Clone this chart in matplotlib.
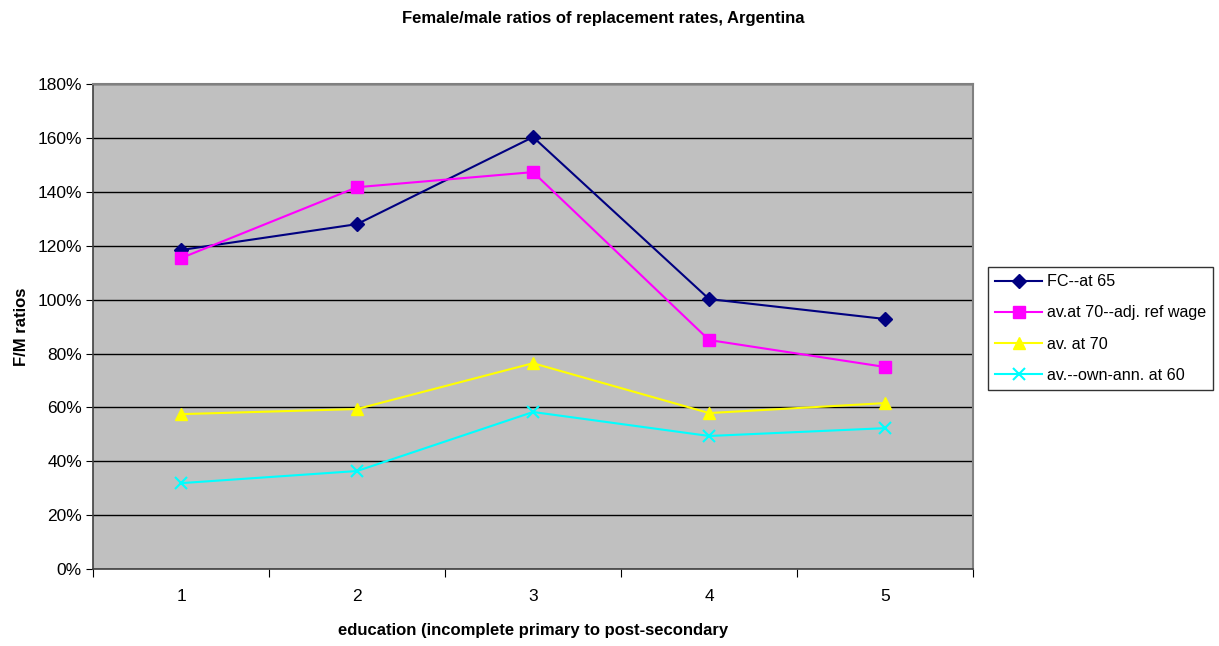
import matplotlib
matplotlib.use("Agg")
from matplotlib import pyplot as plt
from matplotlib.ticker import FixedLocator, PercentFormatter

plt.rcParams['font.family'] = ['Liberation Sans', 'DejaVu Sans']

education = [1, 2, 3, 4, 5]
fc_at_65 = [118.4, 128.0, 160.3, 100.2, 92.8]
av_70_adj = [115.4, 141.7, 147.3, 85.0, 75.0]
av_70 = [57.5, 59.4, 76.4, 57.9, 61.6]
av_own_ann_60 = [31.9, 36.4, 58.3, 49.4, 52.3]

fig = plt.figure(figsize=(12.19, 6.46), dpi=100)
ax = fig.add_axes([0.0763, 0.119, 0.722, 0.751])
ax.set_facecolor('#C0C0C0')

ax.plot(education, fc_at_65, color='#000080', marker='D', ms=7, lw=1.5, label='FC--at 65')
ax.plot(education, av_70_adj, color='#FF00FF', marker='s', ms=8, lw=1.5, label='av.at 70--adj. ref wage')
ax.plot(education, av_70, color='#FFFF00', marker='^', ms=9, lw=1.5, label='av. at 70')
ax.plot(education, av_own_ann_60, color='#00FFFF', marker='x', ms=8, mew=1.5, lw=1.5,
        label='av.--own-ann. at 60')

ax.set_xlim(0.5, 5.5)
ax.set_ylim(0, 180)
ax.set_yticks(range(0, 181, 20))
ax.yaxis.set_major_formatter(PercentFormatter(decimals=0))
ax.yaxis.grid(True, color='black', lw=1)
ax.set_axisbelow(True)

# category ticks between the points, labels centred on them
ax.xaxis.set_major_locator(FixedLocator([0.5, 1.5, 2.5, 3.5, 4.5, 5.5]))
ax.xaxis.set_minor_locator(FixedLocator(education))
ax.set_xticklabels([])
ax.set_xticklabels([str(e) for e in education], minor=True)
ax.tick_params(axis='x', which='minor', length=0, pad=14, labelsize=12.5)
ax.tick_params(axis='x', which='major', length=6, direction='out')
ax.tick_params(axis='y', length=5, direction='out', labelsize=12.5, pad=3)

for side in ['top', 'right']:
    ax.spines[side].set_color('#808080')
    ax.spines[side].set_linewidth(1.5)
for side in ['left', 'bottom']:
    ax.spines[side].set_color('#404040')
    ax.spines[side].set_linewidth(1.2)

ax.set_xlabel('education (incomplete primary to post-secondary', fontsize=12, fontweight='bold', labelpad=14)
ax.set_ylabel('F/M ratios', fontsize=12, fontweight='bold', labelpad=6)
fig.suptitle('Female/male ratios of replacement rates, Argentina', fontsize=12, fontweight='bold',
             x=0.495, y=0.983)

leg = ax.legend(loc='center left', bbox_to_anchor=(1.017, 0.496), fontsize=11.6, frameon=True,
                fancybox=False, edgecolor='black', handlelength=2.9, handletextpad=0.3,
                borderpad=0.45, borderaxespad=0, labelspacing=1.0)
leg.get_frame().set_linewidth(1)

fig.savefig('out.png', dpi=100)
